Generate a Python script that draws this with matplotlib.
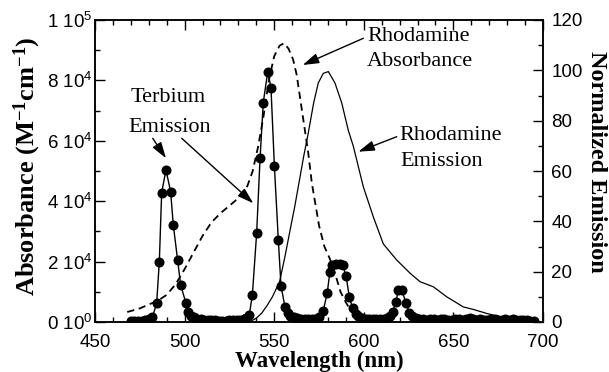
import matplotlib
matplotlib.use("Agg")
import matplotlib.pyplot as plt
from matplotlib.ticker import MultipleLocator, FixedLocator, FixedFormatter
from matplotlib.patches import ArrowStyle

plt.rcParams['font.family'] = ['Liberation Sans', 'DejaVu Sans']
plt.rcParams['mathtext.fontset'] = 'custom'
plt.rcParams['mathtext.rm'] = 'Liberation Sans'
plt.rcParams['mathtext.it'] = 'Liberation Sans:italic'
plt.rcParams['mathtext.bf'] = 'Liberation Sans:bold'

# ---- data ----
# Terbium emission (normalized, right axis)
tb_wl = [470, 472, 474, 476, 478, 480, 482, 484.4, 485.9, 487.2, 489.6, 492.2, 493.7,
         496.1, 497.8, 500.8, 502, 503.5, 505, 507, 509, 511, 513, 515, 517, 519, 521,
         523, 525, 527, 529, 531, 533, 534.5, 536.1, 537.8, 540.2, 542.1, 543.9, 546.4,
         548.2, 550.1, 552.3, 553.8, 556, 557.5, 559, 561, 563, 565, 567, 569, 571, 573,
         575, 577.4, 579.6, 581.1, 582.5, 584.5, 586.5, 588.2, 590.1, 591.9, 593.8, 595.5,
         597, 599, 601, 603, 605, 607, 609, 611, 613, 614.5, 616.1, 618, 619.2, 621.2,
         623.5, 625.4, 627, 629, 631, 633, 635, 637, 639, 641, 643, 645, 647, 649, 651,
         653, 655, 657, 659, 661, 663, 665, 667, 669, 671, 673, 675, 677, 679, 681, 683,
         685, 687, 689, 691, 693, 695]
tb_em = [0.3, 0.3, 0.4, 0.5, 0.7, 1.0, 1.8, 7.4, 24, 51.4, 60.4, 51.8, 38.5,
         24.6, 14.7, 7.4, 4.0, 2.5, 1.8, 1.3, 1.0, 0.8, 0.7, 0.6, 0.6, 0.5, 0.5,
         0.5, 0.6, 0.6, 0.7, 0.8, 1.0, 1.6, 2.8, 10.7, 35.2, 65, 87.2, 99.5,
         93.1, 62, 32.6, 14.4, 6.0, 3.5, 2.4, 1.8, 1.4, 1.2, 1.0, 1.0, 1.0, 1.2,
         1.8, 4.5, 11.6, 20, 22.6, 23, 23, 22.6, 18.3, 10, 5.4, 3.2,
         2.2, 1.6, 1.2, 1.0, 1.0, 1.0, 1.0, 1.2, 1.6, 2.2, 4.1, 8.1, 12.7, 12.7,
         7.7, 3.7, 2.2, 1.5, 1.2, 1.0, 0.9, 1.2, 1.0, 0.8, 1.1, 1.3, 0.9, 0.8, 1.2,
         1.0, 0.7, 1.1, 1.4, 1.0, 0.8, 1.2, 0.9, 0.7, 1.0, 1.3, 0.9, 0.7, 1.0, 0.8, 1.1,
         0.9, 0.7, 0.8, 0.6, 0.5, 0.4]

# Rhodamine emission (normalized, right axis)
rh_em_wl = [537, 540, 543, 546, 549, 553, 556, 559, 561.5, 564, 566.5, 569, 572, 574.6,
            577.4, 580.2, 583.9, 587.7, 591.4, 594.1, 599.7, 605.3, 610.9, 618.4, 625.8,
            631.4, 638.8, 646.3, 655.5, 661.1, 668.6, 676, 682, 688, 693]
rh_em = [0.3, 1.5, 3.5, 6.5, 10, 16, 26, 37, 46, 56, 66, 75, 87, 95,
         98.8, 99.5, 95, 87, 76, 70, 53.8, 41.8, 31, 24.6, 19.4,
         16, 14, 10, 6, 5, 3.4, 2.1, 1.3, 0.7, 0.4]

# Rhodamine absorbance (left axis, M^-1 cm^-1)
rh_abs_wl = [468, 475, 480, 485, 490, 495, 500, 505, 510, 515, 520, 525, 530, 535, 538,
             541, 544, 547, 550, 553, 555.5, 558, 560.5, 562.5, 565, 567, 569, 571, 573,
             575, 578, 581, 584, 587, 590, 592]
rh_abs = [3300, 4500, 5800, 7000, 9000, 12500, 17500, 23000, 28500, 33000, 36000, 38500,
          41000, 45000, 50000, 58000, 68000, 80000, 88000, 91500, 92300, 90500, 87000,
          82000, 72000, 64000, 56000, 46000, 39000, 32000, 25000, 21000, 16000, 10000,
          6500, 4500]

left_ticks = [0, 20000, 40000, 60000, 80000, 100000]
left_ticklabels = ['0 10$^0$', '2 10$^4$', '4 10$^4$', '6 10$^4$', '8 10$^4$', '1 10$^5$']
x_ticks = [450, 500, 550, 600, 650, 700]
right_ticks = [0, 20, 40, 60, 80, 100, 120]

W, H = 609, 372
fig = plt.figure(figsize=(W / 100, H / 100), dpi=100)
L, R, T, B = 95, 543, 20, 322
ax = fig.add_axes([L / W, 1 - B / H, (R - L) / W, (B - T) / H])
ax2 = ax.twinx()

ax.plot(rh_abs_wl, rh_abs, color='black', lw=1.3, ls=(0, (4, 2.6)))
ax2.plot(rh_em_wl, rh_em, color='black', lw=0.9)
ax2.plot(tb_wl, tb_em, color='black', lw=1.0, marker='o', ms=6.2,
         markerfacecolor='black', markeredgecolor='black')

ax.set_xlim(450, 700)
ax.set_ylim(0, 100000)
ax2.set_ylim(0, 120)

ax.xaxis.set_major_locator(FixedLocator(x_ticks))
ax.xaxis.set_minor_locator(MultipleLocator(10))
ax.yaxis.set_major_locator(FixedLocator(left_ticks))
ax.yaxis.set_major_formatter(FixedFormatter(left_ticklabels))
ax.yaxis.set_minor_locator(MultipleLocator(10000))
ax2.yaxis.set_major_locator(FixedLocator(right_ticks))
ax2.yaxis.set_minor_locator(MultipleLocator(10))

for a in (ax, ax2):
    for s in a.spines.values():
        s.set_linewidth(1.1)
ax.tick_params(axis='both', which='both', direction='in', width=1.0, labelsize=13.5)
ax.tick_params(axis='x', which='both', top=True)
ax.tick_params(axis='x', which='major', length=7, pad=8.5)
ax.tick_params(axis='x', which='minor', length=3.5)
ax.tick_params(axis='y', which='major', length=7, pad=2)
ax.tick_params(axis='y', which='minor', length=3.5)
ax2.tick_params(axis='y', which='both', direction='in', width=1.0, labelsize=13.5)
ax2.tick_params(axis='y', which='major', length=7, pad=6)
ax2.tick_params(axis='y', which='minor', length=3.5)

serif = ['Liberation Serif', 'DejaVu Serif']
ax.set_xlabel('Wavelength (nm)', family=serif, weight='bold', fontsize=16.5, labelpad=0)
ax.set_ylabel(r'Absorbance (M$\mathregular{^{-1}}$cm$\mathregular{^{-1}}$)', family=serif,
              weight='bold', fontsize=19)
ax.yaxis.set_label_coords(-0.115, 0.517)
ax2.set_ylabel('Normalized Emission', family=serif, weight='bold', fontsize=17.5,
               rotation=270, va='bottom')
ax2.yaxis.set_label_coords(1.097, 0.53)


def af(px, py):
    return ((px - L) / (R - L), (B - py) / (B - T))


def label(px, py, s):
    ax.text(*af(px, py), s, transform=ax.transAxes, family=serif, fontsize=16,
            ha='left', va='baseline')


label(131, 102, 'Terbium')
label(128, 132, 'Emission')
label(367, 41, 'Rhodamine')
label(367, 66, 'Absorbance')
label(399, 140, 'Rhodamine')
label(400, 166, 'Emission')

arrow = ArrowStyle('-|>', head_length=0.7, head_width=0.22)
for tail, tip in [((152.7, 138.3), (166, 158.3)),
                  ((181.7, 138.3), (253.3, 203.3)),
                  ((363.3, 38.3), (302.7, 65)),
                  ((396.7, 136.7), (358.3, 151.7))]:
    ax.annotate('', xy=af(*tip), xycoords='axes fraction',
                xytext=af(*tail), textcoords='axes fraction',
                arrowprops=dict(arrowstyle=arrow, color='black', lw=1.0,
                                mutation_scale=14, shrinkA=0, shrinkB=0))

fig.savefig('out.png', dpi=100)
